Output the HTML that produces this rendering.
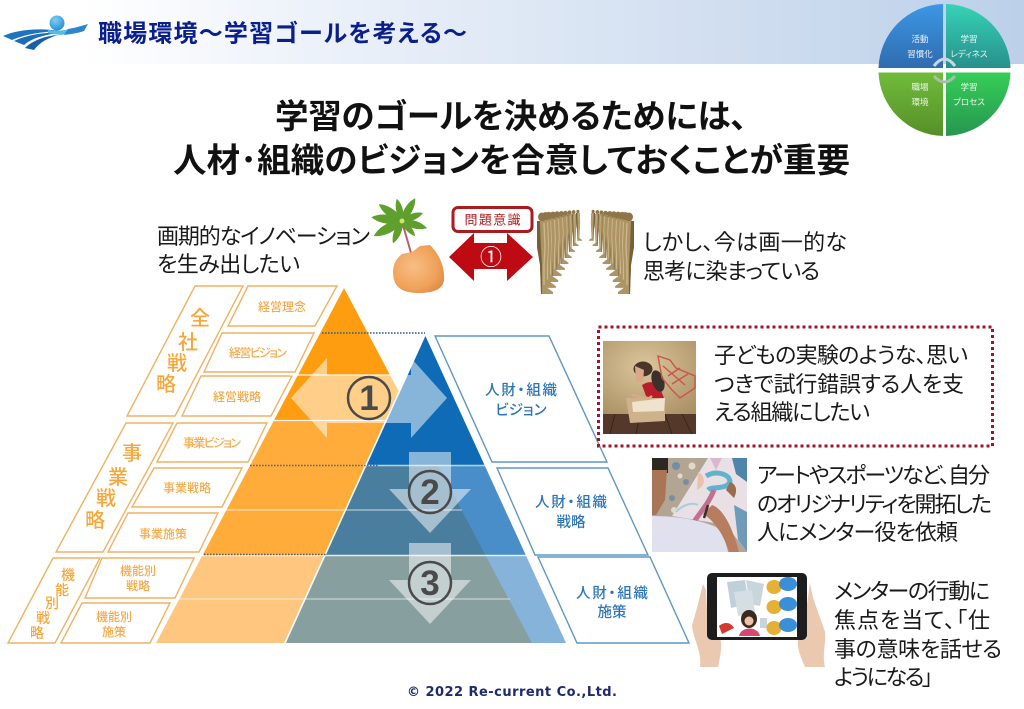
<!DOCTYPE html>
<html lang="ja">
<head>
<meta charset="utf-8">
<title>職場環境〜学習ゴールを考える〜</title>
<style>
html,body{margin:0;padding:0;background:#fff}
svg{display:block}
text{font-family:"Liberation Sans","Noto Sans CJK JP",sans-serif;font-feature-settings:"palt"}
.b{fill:#1a1a1a;font-size:22px}
.o{fill:#F4AB4C;font-size:12px;font-weight:500;text-anchor:middle}
.ob{fill:#F7A73A;font-weight:500;text-anchor:middle}
.r{fill:#2E75B6;font-size:14.5px;font-weight:500;text-anchor:middle}
.w{fill:#fff;font-size:8.500px;text-anchor:middle;opacity:.9}
.lo{fill:#fff;stroke:#EFB264;stroke-width:1.4}
.lb{fill:#fff;stroke:#5E97C0;stroke-width:1.4}
</style>
</head>
<body>
<svg xmlns="http://www.w3.org/2000/svg" width="1024" height="709" viewBox="0 0 1024 709">
<defs>
<linearGradient id="hd" x1="0" x2="1" y1="0" y2="0"><stop offset=".08" stop-color="#fff"/><stop offset=".3" stop-color="#EDF2FA"/><stop offset="1" stop-color="#BCD0E9"/></linearGradient>
<linearGradient id="q1" x1="0" x2="0" y1="0" y2="1"><stop offset="0" stop-color="#3C97E6"/><stop offset="1" stop-color="#2F6CAE"/></linearGradient>
<linearGradient id="q2" x1="0" x2="0" y1="0" y2="1"><stop offset="0" stop-color="#36D3B6"/><stop offset="1" stop-color="#27908C"/></linearGradient>
<linearGradient id="q3" x1="0" x2="0" y1="0" y2="1"><stop offset="0" stop-color="#70BC3C"/><stop offset="1" stop-color="#568F28"/></linearGradient>
<linearGradient id="q4" x1="0" x2="0" y1="0" y2="1"><stop offset="0" stop-color="#35CE58"/><stop offset="1" stop-color="#289650"/></linearGradient>
<radialGradient id="egg" cx=".4" cy=".45" r=".65"><stop offset="0" stop-color="#F8BE85"/><stop offset=".7" stop-color="#F0A25A"/><stop offset="1" stop-color="#E08E48"/></radialGradient>
<radialGradient id="wall" cx=".45" cy=".35" r=".8"><stop offset="0" stop-color="#DCC69C"/><stop offset="1" stop-color="#A98F62"/></radialGradient>
<radialGradient id="ball" cx=".4" cy=".3" r=".8"><stop offset="0" stop-color="#7CD0F4"/><stop offset="1" stop-color="#1E88D0"/></radialGradient>
<clipPath id="co"><polygon points="344,288 156,643 532,643"/></clipPath>
<clipPath id="cb"><polygon points="425,335 285,643 566,643"/></clipPath>
<clipPath id="cp"><rect x="652" y="458" width="95" height="94"/></clipPath>
<path id="lf" d="M0 0 C6 -5.500 20 -5.500 28 0 C20 5.500 6 5.500 0 0Z" fill="#5F9F2E"/>
<g id="fig">
<ellipse cx="5" cy="4" rx="4" ry="4.500" fill="#8F7649"/>
<path d="M0 8 L10 8 L11 34 L10 52 L9 74 L16 79 L16 81 L4 81 L3 52 L0 34Z" fill="#AD9465"/>
<path d="M0 8 L3 8 L4 34 L5 52 L5 81 L4 81 L3 52 L0 34Z" fill="#75603A"/>
<path d="M7 10 L8 34 L7 52 L7 72" stroke="#CDB88D" stroke-width="1.3" fill="none"/>
</g>
</defs>

<!-- header -->
<rect x="0" y="0" width="1024" height="64" fill="url(#hd)"/>
<!-- logo -->
<circle cx="57" cy="23" r="7.500" fill="url(#ball)"/>
<path d="M3 36 C14 31 32 28 52 30 L66 31 C50 31 28 33 12 40Z" fill="#1F74BE"/>
<path d="M14 41 C24 36 42 32 58 33 C44 35 32 38 24 45Z" fill="#1C6CB8"/>
<path d="M25 48 C32 41 44 36 58 35 C48 38 40 42 34 50Z" fill="#1560A8"/>
<path d="M48 30 C58 31 64 31 72 28 L66 34 C60 36 54 34 48 33Z" fill="#58B8E8"/>
<path d="M68 29 C75 28 81 26 88 24 L84 31 C78 33 72 34 64 35Z" fill="#2B86CC"/>
<text x="98" y="41.500" font-size="24" font-weight="700" fill="#0A1E8C" textLength="369" lengthAdjust="spacing">職場環境〜学習ゴールを考える〜</text>

<!-- quad circle -->
<path d="M943 4 A66 66 0 0 0 878.500 68 L943 68Z" fill="url(#q1)"/>
<path d="M946 4 A66 66 0 0 1 1010.500 68 L946 68Z" fill="url(#q2)"/>
<path d="M943 72.500 L878.500 72.500 A66 66 0 0 0 943 136Z" fill="url(#q3)"/>
<path d="M946 72.500 L1010.500 72.500 A66 66 0 0 1 946 136Z" fill="url(#q4)"/>
<path d="M934 66 Q944.500 52 955 66" fill="none" stroke="#C9D6E4" stroke-width="3"/>
<path d="M934 76 Q944.500 88 955 76" fill="none" stroke="#A9BDA9" stroke-width="3"/>
<text class="w" x="920" y="42">活動</text><text class="w" x="920" y="57">習慣化</text>
<text class="w" x="969" y="42">学習</text><text class="w" x="969" y="57">レディネス</text>
<text class="w" x="920" y="90">職場</text><text class="w" x="920" y="105">環境</text>
<text class="w" x="969" y="90">学習</text><text class="w" x="969" y="105">プロセス</text>

<!-- main title -->
<text x="275" y="128" font-size="33.500" font-weight="700" fill="#111" textLength="472" lengthAdjust="spacing">学習のゴールを決めるためには、</text>
<text x="173" y="172" font-size="33.500" font-weight="700" fill="#111" textLength="677" lengthAdjust="spacing">人材･組織のビジョンを合意しておくことが重要</text>

<!-- upper row text -->
<text class="b" x="157" y="244" textLength="213" lengthAdjust="spacing">画期的なイノベーション</text>
<text class="b" x="157" y="272" textLength="143" lengthAdjust="spacing">を生み出したい</text>
<text class="b" x="643" y="250" textLength="204" lengthAdjust="spacing">しかし、今は画一的な</text>
<text class="b" x="643" y="279" textLength="177" lengthAdjust="spacing">思考に染まっている</text>

<!-- plant / egg -->
<path d="M402 222 C405 232 408 242 411 253" stroke="#B5606A" stroke-width="2" fill="none"/>
<path d="M402 254 L412 252 L420 246 L430 245 C440 255 445 268 444 280 C443 290 432 293 419 293 C403 293 393 288 393 272 C393 263 397 258 402 254Z" fill="url(#egg)"/>
<use href="#lf" transform="translate(402,221) rotate(-103) scale(.81)"/>
<use href="#lf" transform="translate(402,221) rotate(-60) scale(.94)"/>
<use href="#lf" transform="translate(402,221) rotate(-21) scale(.8)"/>
<use href="#lf" transform="translate(402,221) rotate(16) scale(.93)"/>
<use href="#lf" transform="translate(402,221) rotate(49) scale(.71)"/>
<use href="#lf" transform="translate(402,221) rotate(112) scale(.86)"/>
<use href="#lf" transform="translate(402,221) rotate(152) scale(1.14)"/>
<use href="#lf" transform="translate(402,221) rotate(187) scale(1.1)"/>
<use href="#lf" transform="translate(402,221) rotate(216) scale(1.02)"/>
<circle cx="402" cy="221" r="2.500" fill="#CFE468"/>

<!-- problem awareness arrow -->
<polygon points="449,257 474,233 474,243 507,243 507,233 533,257 507,281 507,269 474,269 474,281" fill="#BE0A12"/>
<rect x="453" y="207.500" width="79" height="24" rx="5" fill="#fff" stroke="#A91B1F" stroke-width="3"/>
<text x="492.500" y="224.500" font-size="13" font-weight="400" fill="#A91B1F" text-anchor="middle" textLength="56" lengthAdjust="spacing">問題意識</text>
<text x="491" y="265" font-size="22" fill="#fff" text-anchor="middle">①</text>

<!-- mannequins -->
<g>
<use href="#fig" transform="translate(576,210) scale(.38)"/>
<use href="#fig" transform="translate(571.500,210.300) scale(.44)"/>
<use href="#fig" transform="translate(567,210.600) scale(.51)"/>
<use href="#fig" transform="translate(562.500,211) scale(.58)"/>
<use href="#fig" transform="translate(558,211.300) scale(.65)"/>
<use href="#fig" transform="translate(553.500,211.600) scale(.72)"/>
<use href="#fig" transform="translate(549,212) scale(.79)"/>
<use href="#fig" transform="translate(544.500,212.300) scale(.86)"/>
<use href="#fig" transform="translate(541,212.600) scale(.93)"/>
<use href="#fig" transform="translate(537,213)"/>
<use href="#fig" transform="translate(595,210) scale(-.38,.38)"/>
<use href="#fig" transform="translate(599.500,210.300) scale(-.44,.44)"/>
<use href="#fig" transform="translate(604,210.600) scale(-.51,.51)"/>
<use href="#fig" transform="translate(608.500,211) scale(-.58,.58)"/>
<use href="#fig" transform="translate(613,211.300) scale(-.65,.65)"/>
<use href="#fig" transform="translate(617.500,211.600) scale(-.72,.72)"/>
<use href="#fig" transform="translate(622,212) scale(-.79,.79)"/>
<use href="#fig" transform="translate(626.500,212.300) scale(-.86,.86)"/>
<use href="#fig" transform="translate(630,212.600) scale(-.93,.93)"/>
<use href="#fig" transform="translate(634,213) scale(-1,1)"/>
</g>

<!-- left orange boxes -->
<polygon class="lo" points="195,286 243,286 175,416 127,416"/>
<polygon class="lo" points="248,286 337,286 315,326 228,326"/>
<polygon class="lo" points="222,333 314,333 295,372 204,372"/>
<polygon class="lo" points="201,376 292,376 271,416 182,416"/>
<polygon class="lo" points="126,423 173,423 103,552 56,552"/>
<polygon class="lo" points="177,423 267,423 248,462 157,462"/>
<polygon class="lo" points="154,468 242,468 222,507 132,507"/>
<polygon class="lo" points="128,513 218,513 199,552 108,552"/>
<polygon class="lo" points="53,558 100,558 55,643 8,643"/>
<polygon class="lo" points="102,558 194,558 175,598 85,598"/>
<polygon class="lo" points="82,603 170,603 150,643 61,643"/>
<g font-size="20">
<text class="ob" x="200" y="325">全</text><text class="ob" x="188" y="349">社</text><text class="ob" x="177" y="370">戦</text><text class="ob" x="166" y="391">略</text>
<text class="ob" x="132" y="460">事</text><text class="ob" x="118" y="484">業</text><text class="ob" x="106" y="505">戦</text><text class="ob" x="95" y="527">略</text>
</g>
<g font-size="14">
<text class="ob" x="68" y="580">機</text><text class="ob" x="62" y="595">能</text><text class="ob" x="52" y="608">別</text><text class="ob" x="43" y="623">戦</text><text class="ob" x="37" y="638">略</text>
</g>
<text class="o" x="282" y="311">経営理念</text>
<text class="o" x="258" y="357" textLength="58" lengthAdjust="spacing">経営ビジョン</text>
<text class="o" x="237" y="401">経営戦略</text>
<text class="o" x="212" y="447" textLength="58" lengthAdjust="spacing">事業ビジョン</text>
<text class="o" x="187" y="492">事業戦略</text>
<text class="o" x="163" y="538">事業施策</text>
<text class="o" x="138" y="575">機能別</text><text class="o" x="138" y="590">戦略</text>
<text class="o" x="114" y="621">機能別</text><text class="o" x="114" y="636">施策</text>

<!-- orange pyramid -->
<g clip-path="url(#co)">
<rect x="100" y="280" width="500" height="141" fill="#FF9D10"/>
<rect x="100" y="420" width="500" height="46" fill="#FFAC3A"/>
<rect x="100" y="466" width="500" height="89" fill="#FFAC3A"/>
<rect x="100" y="555" width="500" height="90" fill="#FFC680"/>
</g>
<!-- blue pyramid -->
<g clip-path="url(#cb)">
<rect x="250" y="330" width="400" height="136" fill="#0F6BB5"/>
<rect x="250" y="466" width="400" height="89" fill="#4A8EC9"/>
<rect x="250" y="555" width="400" height="90" fill="#86B3DA"/>
</g>
<!-- overlap -->
<g clip-path="url(#co)"><g clip-path="url(#cb)">
<rect x="250" y="466" width="400" height="89" fill="#4A7E9E"/>
<rect x="250" y="555" width="400" height="90" fill="#889F9F"/>
</g></g>
<!-- white separators -->
<g stroke="#fff" stroke-width="1.2" opacity=".9">
<line x1="290" y1="375" x2="395" y2="375"/>
<line x1="270" y1="420.500" x2="386" y2="420.500"/>
<line x1="222" y1="510" x2="462" y2="510" opacity=".65"/>
<line x1="176" y1="599" x2="510" y2="599" opacity=".6"/>
</g>
<g stroke="#fff" stroke-width="1.6">
<line x1="200" y1="555.500" x2="530" y2="555.500" opacity=".8"/>
<line x1="363" y1="465.500" x2="486" y2="465.500" opacity=".7"/>
</g>
<line x1="425" y1="335" x2="285" y2="643" stroke="#fff" stroke-width="1.6"/>
<!-- dotted -->
<g stroke-width="1.6" stroke-dasharray="1.6 1.4" fill="none">
<line x1="322" y1="333" x2="425" y2="333" stroke="#2F5F8F"/>
<line x1="250" y1="465.500" x2="378" y2="465.500" stroke="#556B7A"/>
<line x1="204" y1="554.500" x2="326" y2="554.500" stroke="#50606C"/>
</g>

<!-- arrows overlay -->
<polygon points="291,398 327,358 327,375 411,375 411,358 447,398 411,438 411,423 327,423 327,438" fill="#fff" opacity=".5"/>
<polygon points="409,452 451,452 451,489 471,489 430,533 389,489 409,489" fill="#fff" opacity=".5"/>
<polygon points="409,543 451,543 451,580 471,580 430,624 389,580 409,580" fill="#fff" opacity=".5"/>
<g fill="none" stroke="#4a4a4a" stroke-width="2.500">
<circle cx="369" cy="398" r="21"/>
<circle cx="430" cy="492" r="21"/>
<circle cx="430" cy="583" r="21"/>
</g>
<g font-size="35" font-weight="700" fill="#4a4a4a" text-anchor="middle">
<text x="369" y="410">1</text>
<text x="430" y="504">2</text>
<text x="430" y="595">3</text>
</g>

<!-- right blue boxes -->
<polygon class="lb" points="435,336 549,336 607,462 492,462"/>
<polygon class="lb" points="497,468 608,468 648,555 535,555"/>
<polygon class="lb" points="538,557 650,557 689,643 577,643"/>
<text class="r" x="521" y="395" textLength="72" lengthAdjust="spacing">人財・組織</text><text class="r" x="521" y="415">ビジョン</text>
<text class="r" x="571" y="507" textLength="72" lengthAdjust="spacing">人財・組織</text><text class="r" x="571" y="527">戦略</text>
<text class="r" x="612" y="598" textLength="72" lengthAdjust="spacing">人財・組織</text><text class="r" x="612" y="617">施策</text>

<!-- red dotted frame -->
<rect x="598.500" y="327" width="394" height="119" fill="none" stroke="#A5112A" stroke-width="3" stroke-dasharray="3 3"/>

<!-- kid photo -->
<rect x="603" y="341" width="93" height="74" fill="url(#wall)"/>
<rect x="603" y="414" width="93" height="20" fill="#54382A"/>
<g stroke="#32201A" stroke-width=".8"><line x1="615" y1="414" x2="610" y2="434"/><line x1="640" y1="414" x2="636" y2="434"/><line x1="665" y1="414" x2="672" y2="434"/><line x1="682" y1="414" x2="692" y2="434"/></g>
<polygon points="626,398 630,423 665,421 665,398" fill="#CDB28C"/>
<polygon points="632,402 665,398 664,411 633,412" fill="#EFE3CE"/>
<path d="M642 385 C650 380 658 382 660 388 L664 398 L650 398 L646 396Z" fill="#B91E2B"/>
<ellipse cx="658" cy="381" rx="6" ry="11" fill="#3A302C" transform="rotate(-18 658 381)"/>
<ellipse cx="643" cy="369" rx="9.500" ry="7.500" fill="#4A3526"/>
<path d="M635 366 L644 370 L643 382 L636 382Z" fill="#D8A98A"/>
<path d="M632 395 L648 399 L652 396" stroke="#D8A98A" stroke-width="2.500" fill="none"/>
<path d="M658 356 L670 360 L676 368 L695 376 L695 388 L680 398 L672 390 L662 378 Z M663 366 L685 385 M668 376 L680 368 M672 384 L688 374" fill="none" stroke="#C8564C" stroke-width="1.400"/>

<!-- painting photo -->
<g clip-path="url(#cp)">
<rect x="652" y="458" width="95" height="94" fill="#B2A593"/>
<g fill="#5E86A6" opacity=".7"><circle cx="676" cy="466" r="4"/><circle cx="686" cy="482" r="3"/><circle cx="672" cy="498" r="3"/></g>
<g fill="#F0E6D8" opacity=".8"><circle cx="692" cy="466" r="3.500"/><circle cx="680" cy="476" r="2.500"/><circle cx="674" cy="510" r="3"/></g>
<polygon points="708,458 747,458 747,552 726,525 672,516" fill="#E9E0E6"/>
<path d="M706 476 C716 470 730 474 730 482 C726 490 712 486 708 490" fill="none" stroke="#5FB3CE" stroke-width="5"/>
<path d="M714 490 C708 505 700 512 694 522" fill="none" stroke="#C1708E" stroke-width="5"/>
<path d="M697 490 C706 486 706 476 698 472" fill="#E9C2AC"/>
<path d="M676 512 C682 505 692 502 698 505" fill="none" stroke="#A8CDD6" stroke-width="2"/>
<path d="M732 458 L747 458 L747 482 L736 474Z" fill="#4F84AB"/>
<path d="M730 482 C736 484 738 490 734 498 L726 490Z" fill="#9C6B4E"/>
<path d="M734 505 L747 512 L747 552 L738 540Z" fill="#6F9AB8"/>
<path d="M710 458 L722 458 L716 470Z" fill="#D8B8CC"/>
<rect x="652" y="458" width="16" height="15" fill="#2E2823"/>
<path d="M652 470 L667 470 L665 500 L656 515 L652 515Z" fill="#A87657"/>
<path d="M652 516 C670 516 695 518 716 527 C722 532 726 542 728 552 L652 552Z" fill="#E0E0EE"/>
<path d="M712 505 C722 508 732 525 739 552 L729 552 C724 535 714 520 703 514Z" fill="#B87D5E"/>
<path d="M708 505 L704 518" stroke="#3A2E2C" stroke-width="2.500"/>
</g>

<!-- tablet -->
<path d="M703 584 C700 595 697 610 692 625 C693 640 702 650 700 667 L718 667 C722 650 722 640 719 636 L712 640 L708 632 L706 590Z" fill="#EBC8B0"/>
<path d="M810 582 C812 600 820 615 825 632 C826 645 822 655 825 667 L805 667 C800 655 797 648 798 640 L807 638 L807 605Z" fill="#EBC8B0"/>
<rect x="707" y="573" width="100" height="67" rx="5" fill="#1D1D1D"/>
<rect x="717" y="577" width="80" height="60" fill="#fff"/>
<polygon points="727,582 745,580 749,604 731,608" fill="#BFD0D8"/>
<polygon points="746,580 764,584 760,606 750,604" fill="#C9D5DC"/>
<polygon points="734,592 752,590 755,612 738,616" fill="#D4DEE3"/>
<ellipse cx="749" cy="619" rx="8" ry="9" fill="#3C2A20"/>
<path d="M739 636 C741 626 758 626 760 636Z" fill="#D8476F"/>
<circle cx="749" cy="621" r="4.500" fill="#EBC4A8"/>
<rect x="760" y="618" width="7" height="10" fill="#C9D5DC"/>
<path d="M719 626 C726 620 732 624 734 628 L722 634Z" fill="#D63A2E"/>
<g fill="#E4B035"><ellipse cx="774" cy="587" rx="7.500" ry="7"/><ellipse cx="774" cy="607" rx="7.500" ry="7"/><ellipse cx="774" cy="628" rx="7.500" ry="7"/></g>
<g fill="#3A8FD8"><ellipse cx="788" cy="584" rx="9" ry="7"/><ellipse cx="788" cy="604" rx="9" ry="7"/><ellipse cx="788" cy="625" rx="9" ry="7"/></g>

<!-- right text -->
<text class="b" x="714" y="363" textLength="254" lengthAdjust="spacing">子どもの実験のような、思い</text>
<text class="b" x="714" y="392" textLength="250" lengthAdjust="spacing">つきで試行錯誤する人を支</text>
<text class="b" x="714" y="420" textLength="156" lengthAdjust="spacing">える組織にしたい</text>
<text class="b" x="757" y="483" textLength="233" lengthAdjust="spacing">アートやスポーツなど、自分</text>
<text class="b" x="757" y="512" textLength="235" lengthAdjust="spacing">のオリジナリティを開拓した</text>
<text class="b" x="757" y="540" textLength="201" lengthAdjust="spacing">人にメンター役を依頼</text>
<text class="b" x="834" y="599" textLength="156" lengthAdjust="spacing">メンターの行動に</text>
<text class="b" x="834" y="628" textLength="156" lengthAdjust="spacing">焦点を当て、「仕</text>
<text class="b" x="834" y="657" textLength="168" lengthAdjust="spacing">事の意味を話せる</text>
<text class="b" x="834" y="685" textLength="99" lengthAdjust="spacing">ようになる」</text>

<!-- footer -->
<text x="407" y="696" font-size="13" font-weight="700" fill="#1D2A6E" style="font-family:'DejaVu Sans',sans-serif" textLength="210" lengthAdjust="spacing">© 2022 Re-current Co.,Ltd.</text>
</svg>
</body>
</html>
